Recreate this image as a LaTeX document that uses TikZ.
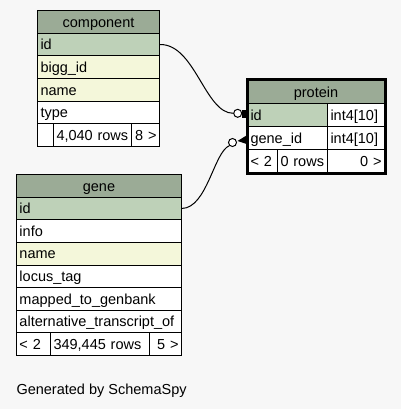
\documentclass[tikz,border=0pt]{standalone}
\usepackage{fontspec}
\setmainfont{Liberation Sans}
\usepackage{xcolor}
\definecolor{headgreen}{HTML}{9BAB96}
\definecolor{pkgreen}{HTML}{BED1B8}
\definecolor{idxyellow}{HTML}{F4F7DA}
\definecolor{bggray}{HTML}{F7F7F7}

\begin{document}
\begin{tikzpicture}[x=1pt,y=-1pt,
  every node/.style={font=\fontsize{14.5}{17}\selectfont},
  w/.code={\pgfmathsetmacro\cellw{#1-6}\tikzset{text width/.expanded=\cellw pt}},
  cell/.style={draw, line width=1pt, anchor=north west, inner xsep=3pt, inner ysep=0pt,
    text height=11.5pt, text depth=1pt, align=left},
  head/.style={cell, fill=headgreen, align=center}]
\fill [bggray] (0,0) rectangle (401,409);
\useasboundingbox (0,0) rectangle (401,409);

% component
\node [head, w=122, minimum height=22.67] (comp-0) at (37,10) {component};
\foreach \txt/\col [count=\i] in {id/pkgreen, bigg\_id/idxyellow, name/idxyellow, type/white}
  \node [cell, fill=\col, w=122, minimum height=22.67] (comp-\i) at (37,{10+22.67*\i}) {\txt};
\node [cell, fill=white, w=16, minimum height=22.67] (comp-f1) at (37,123.35) {};
\node [cell, fill=white, w=78, minimum height=22.67] (comp-f2) at (53,123.35) {4,040 rows};
\node [cell, fill=white, w=28, minimum height=22.67, align=right] (comp-f3) at (131,123.35) {8 >};

% protein
\node [head, w=137, minimum height=23] (prot-0) at (247,80) {protein};
\node [cell, fill=pkgreen, w=80, minimum height=23] (prot-1) at (247,103) {id};
\node [cell, fill=white, w=57, minimum height=23] (prot-1t) at (327,103) {int4[10]};
\node [cell, fill=white, w=80, minimum height=23] (prot-2) at (247,126) {gene\_id};
\node [cell, fill=white, w=57, minimum height=23] (prot-2t) at (327,126) {int4[10]};
\node [cell, fill=white, w=30, minimum height=23] (prot-f1) at (247,149) {< 2};
\node [cell, fill=white, w=50, minimum height=23] (prot-f2) at (277,149) {0 rows};
\node [cell, fill=white, w=57, minimum height=23, align=right] (prot-f3) at (327,149) {0 >};
\draw [line width=3pt] (prot-0.north west) rectangle (prot-f3.south east);

% gene
\node [head, w=165, minimum height=22.63] (gene-0) at (16,174) {gene};
\foreach \txt/\col [count=\i] in {id/pkgreen, info/white, name/idxyellow, locus\_tag/white,
    mapped\_to\_genbank/white, alternative\_transcript\_of/white}
  \node [cell, fill=\col, w=165, minimum height=22.63] (gene-\i) at (16,{174+22.63*\i}) {\txt};
\node [cell, fill=white, w=34, minimum height=22.63] (gene-f1) at (16,332.4) {< 2};
\node [cell, fill=white, w=99, minimum height=22.63] (gene-f2) at (50,332.4) {349,445 rows};
\node [cell, fill=white, w=32, minimum height=22.63, align=right] (gene-f3) at (149,332.4) {5 >};

% relationships
\node [circle, draw, fill=white, line width=1pt, minimum size=8, inner sep=0pt] (c1) at (237.7,113.3) {};
\fill (242,110) rectangle (246.5,117.5);
\draw [line width=1pt] (comp-1.east) .. controls (195,44) and (205,113.3) .. (c1.west);
\node [circle, draw, fill=white, line width=1pt, minimum size=8, inner sep=0pt] (c2) at (232.5,142.5) {};
\fill (237.5,141) -- (246.5,135.5) -- (246.5,144) -- cycle;
\draw [line width=1pt] (gene-1.east) .. controls (207,208) and (214,152) .. (c2.south west);

\node [anchor=west] (gen) at (13,391) {Generated by SchemaSpy};
\end{tikzpicture}
\end{document}
